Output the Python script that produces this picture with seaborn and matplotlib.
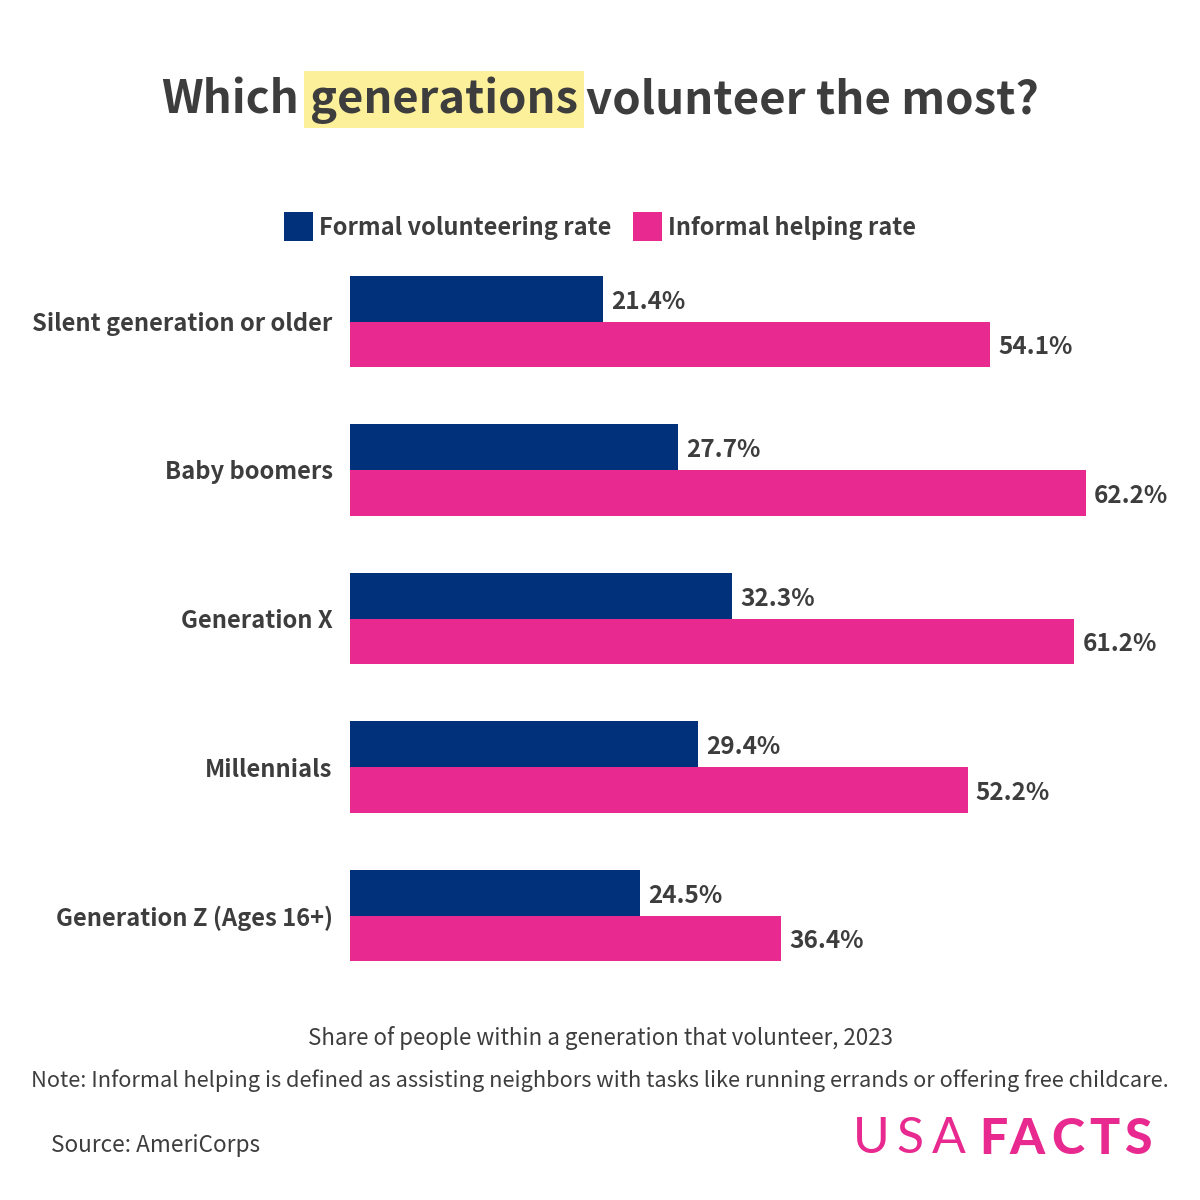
#generations volunteering bar chart
import matplotlib
matplotlib.use("Agg")
import matplotlib.pyplot as plt
from matplotlib.patches import Rectangle
import pandas as pd
import seaborn as sns

generations = ["Silent generation or older", "Baby boomers", "Generation X", "Millennials", "Generation Z (Ages 16+)"]
formal_rate = [21.4, 27.7, 32.3, 29.4, 24.5]
informal_rate = [54.1, 62.2, 61.2, 52.2, 36.4]
series_names = ["Formal volunteering rate", "Informal helping rate"]
colors = ["#00317a", "#e8298f"]

TEXT = "#3d3d3d"
FONT = ["Noto Sans CJK SC", "DejaVu Sans"]

sns.set_theme(style="white")
plt.rcParams['font.family'] = FONT

#long format table for seaborn
df = pd.DataFrame({"generation": generations * 2,
                   "rate": formal_rate + informal_rate,
                   "series": [series_names[0]] * 5 + [series_names[1]] * 5})

fig = plt.figure(figsize=(12, 12), dpi=100, facecolor="white")

#axes in pixel terms: left 350, x scale 11.83 px per percent
x_max = 850 / 11.83
ax = fig.add_axes([350 / 1200, 1 - 1004.6 / 1200, 850 / 1200, (1004.6 - 232.4) / 1200])
sns.barplot(data=df, y="generation", x="rate", hue="series", palette=colors,
            width=0.613, saturation=1, legend=False, linewidth=0, ax=ax)
ax.set_xlim(0, x_max)
ax.set_ylim(4.6, -0.6)
ax.set_xlabel("")
ax.set_ylabel("")
ax.set_xticks([])
sns.despine(ax=ax, left=True, bottom=True)
ax.tick_params(axis="y", length=0, pad=12.5)
for lab in ax.get_yticklabels():
    lab.set_fontsize(17.1)
    lab.set_fontweight("bold")
    lab.set_color(TEXT)

#value labels, nudged down a bit to sit on the bar centre
for cont in ax.containers:
    for lab in ax.bar_label(cont, fmt="%.1f%%", padding=6, fontsize=17.5, fontweight="bold", color=TEXT):
        lab.xyann = (6, -2.2)

#title with highlighted word
fig.add_artist(Rectangle((304 / 1200, 1 - 128 / 1200), 280 / 1200, 57 / 1200,
                         transform=fig.transFigure, facecolor="#fdf09a", edgecolor="none", zorder=0))
title_y = 1 - 100 / 1200
fig.text(161 / 1200, title_y, "Which", fontsize=32.8, fontweight="bold", color=TEXT, va="center", ha="left")
fig.text(310 / 1200, title_y, "generations", fontsize=32.6, fontweight="bold", color=TEXT, va="center", ha="left")
fig.text(1039 / 1200, title_y, "volunteer the most?", fontsize=32.8, fontweight="bold", color=TEXT, va="center", ha="right")

#legend
for x0, col, name, tx in zip([284, 633], colors, series_names, [319, 668]):
    fig.add_artist(Rectangle((x0 / 1200, 1 - 241 / 1200), 29 / 1200, 29 / 1200,
                             transform=fig.transFigure, facecolor=col, edgecolor="none"))
    fig.text(tx / 1200, 1 - 227.5 / 1200, name, fontsize=17, fontweight="bold", color=TEXT, va="center", ha="left")

#footer
fig.text(0.5, 1 - 1038.5 / 1200, "Share of people within a generation that volunteer, 2023",
         fontsize=16.1, color=TEXT, va="center", ha="center", fontweight="medium")
fig.text(0.5, 1 - 1080.5 / 1200,
         "Note: Informal helping is defined as assisting neighbors with tasks like running errands or offering free childcare.",
         fontsize=15.7, color=TEXT, va="center", ha="center", fontweight="medium")
fig.text(51 / 1200, 1 - 1145.5 / 1200, "Source: AmeriCorps", fontsize=16.3, color=TEXT, va="center", ha="left", fontweight="medium")

#logo, one letter at a time so the tracking can follow the wordmark
logo_font = ["Lato", "DejaVu Sans"]
for ch, px in zip("USA", [871, 910, 949]):
    fig.text(px / 1200, 1 - 1139 / 1200, ch, fontsize=36, color="#e8298f", va="center", ha="center", fontweight="regular", family=logo_font)
for ch, px in zip("FACTS", [993, 1027, 1068, 1104, 1138]):
    fig.text(px / 1200, 1 - 1139 / 1200, ch, fontsize=36, color="#e8298f", va="center", ha="center", fontweight="black", family=logo_font)

fig.savefig("out.png", dpi=100, facecolor="white")
